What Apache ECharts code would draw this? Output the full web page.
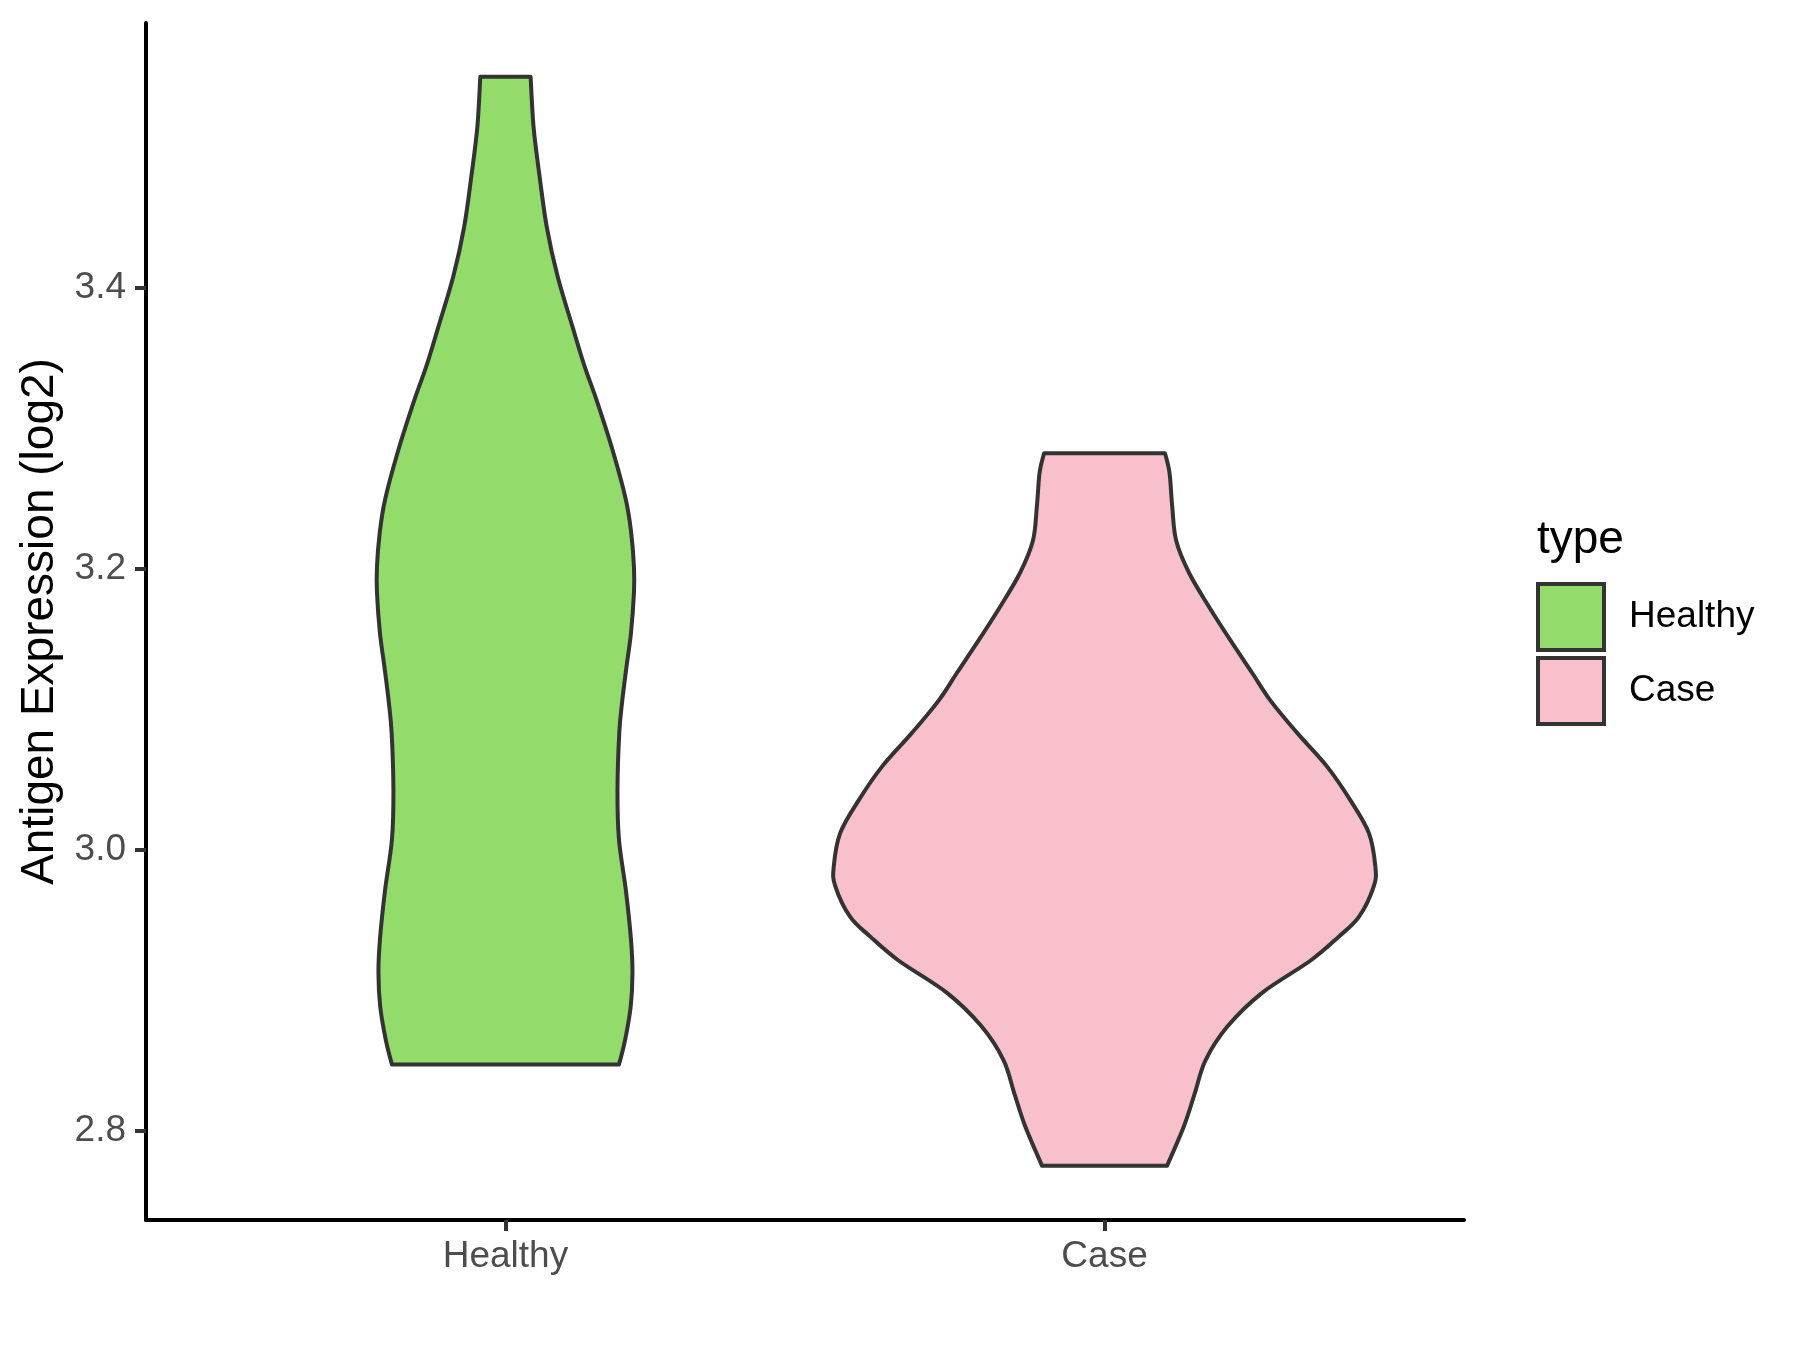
<!DOCTYPE html>
<html>
<head>
<meta charset="utf-8">
<script src="https://cdn.jsdelivr.net/npm/echarts@6/dist/echarts.min.js"></script>
<style>
  html, body { margin: 0; padding: 0; background: #ffffff; }
  #chart { width: 1800px; height: 1350px; }
</style>
</head>
<body>
<div id="chart"></div>
<script>
// ---- data ----
const categories = ['Healthy', 'Case'];
const yTicks = [2.8, 3.0, 3.2, 3.4];

// violin outlines: expression value (top to bottom) and half-width in category units
const healthyY = [3.550, 3.514, 3.479, 3.443, 3.408, 3.372, 3.344, 3.320, 3.284, 3.249, 3.225, 3.201, 3.183, 3.154, 3.130, 3.106, 3.083, 3.042, 3.007, 2.971, 2.936, 2.912, 2.888, 2.864, 2.847];
const healthyHalfWidth = [0.042, 0.047, 0.057, 0.069, 0.087, 0.112, 0.132, 0.152, 0.179, 0.201, 0.210, 0.2145, 0.2145, 0.2095, 0.202, 0.195, 0.190, 0.187, 0.1895, 0.201, 0.2095, 0.212, 0.209, 0.1995, 0.1895];

const caseY = [3.282, 3.268, 3.244, 3.220, 3.197, 3.173, 3.149, 3.126, 3.106, 3.083, 3.059, 3.035, 3.012, 2.988, 2.974, 2.952, 2.938, 2.921, 2.898, 2.874, 2.850, 2.827, 2.803, 2.775];
const caseHalfWidth = [0.101, 0.1085, 0.113, 0.1195, 0.141, 0.174, 0.210, 0.246, 0.277, 0.3215, 0.3715, 0.4105, 0.441, 0.452, 0.4495, 0.4245, 0.391, 0.344, 0.263, 0.205, 0.1685, 0.151, 0.1325, 0.1045];

const violinY = [healthyY, caseY];
const violinHalfWidth = [healthyHalfWidth, caseHalfWidth];
const fillColors = ['#93DB6A', '#F8C0CB'];
const outlineColor = '#333333';
const FONT = '"Liberation Sans", Arial, sans-serif';

// smooth path through pixel points (Catmull-Rom -> cubic Bezier)
function bezierThrough(pts) {
  let d = '';
  for (let i = 0; i < pts.length - 1; i++) {
    const p0 = pts[i - 1] || pts[i];
    const p1 = pts[i];
    const p2 = pts[i + 1];
    const p3 = pts[i + 2] || pts[i + 1];
    const c1x = p1[0] + (p2[0] - p0[0]) / 6, c1y = p1[1] + (p2[1] - p0[1]) / 6;
    const c2x = p2[0] - (p3[0] - p1[0]) / 6, c2y = p2[1] - (p3[1] - p1[1]) / 6;
    d += ' C ' + c1x + ' ' + c1y + ' ' + c2x + ' ' + c2y + ' ' + p2[0] + ' ' + p2[1];
  }
  return d;
}

function makeRenderItem(k) {
  return function (params, api) {
    const center = k + 1;
    const ys = violinY[k], hw = violinHalfWidth[k];
    const right = ys.map((y, i) => api.coord([center + hw[i], y]));
    const left = ys.map((y, i) => api.coord([center - hw[i], y])).reverse();
    let d = 'M ' + right[0][0] + ' ' + right[0][1];
    d += bezierThrough(right);
    d += ' L ' + left[0][0] + ' ' + left[0][1];
    d += bezierThrough(left);
    d += ' Z';
    return {
      type: 'path',
      shape: { pathData: d },
      style: { fill: fillColors[k], stroke: outlineColor, lineWidth: 4, lineJoin: 'round' }
    };
  };
}

const chart = echarts.init(document.getElementById('chart'), null, { renderer: 'canvas' });

const option = {
  backgroundColor: '#ffffff',
  animation: false,
  title: {
    text: 'type',
    left: 1537,
    top: 517,
    padding: 0,
    textStyle: { fontFamily: FONT, fontSize: 46, fontWeight: 'normal', color: '#000000' }
  },
  legend: {
    orient: 'vertical',
    left: 1536,
    top: 582,
    padding: 0,
    itemWidth: 66,
    itemHeight: 66,
    itemGap: 4,
    icon: 'rect',
    textStyle: { fontFamily: FONT, fontSize: 37, color: '#000000', padding: [6, 0, 0, 20] },
    data: categories.map((c, k) => ({
      name: c,
      itemStyle: { color: fillColors[k], borderColor: outlineColor, borderWidth: 4 }
    }))
  },
  grid: { left: 146, right: 336, top: 23, bottom: 130, containLabel: false },
  xAxis: {
    type: 'value',
    min: 0.4,
    max: 2.6,
    splitLine: { show: false },
    axisLine: { show: true, onZero: false, lineStyle: { color: '#000000', width: 4 } },
    axisTick: { show: true, length: 11, customValues: [1, 2], lineStyle: { color: '#333333', width: 4 } },
    axisLabel: {
      show: true,
      customValues: [1, 2],
      margin: 18,
      formatter: v => categories[Math.round(v) - 1] || '',
      fontFamily: FONT,
      fontSize: 37,
      color: '#4D4D4D'
    }
  },
  yAxis: {
    type: 'value',
    min: 2.7363,
    max: 3.5883,
    name: 'Antigen Expression (log2)',
    nameLocation: 'middle',
    nameGap: 80,
    nameTextStyle: { fontFamily: FONT, fontSize: 46, color: '#000000' },
    splitLine: { show: false },
    axisLine: { show: true, onZero: false, lineStyle: { color: '#000000', width: 4 } },
    axisTick: { show: true, length: 11, customValues: yTicks, lineStyle: { color: '#333333', width: 4 } },
    axisLabel: {
      show: true,
      customValues: yTicks,
      margin: 20,
      formatter: v => Number(v).toFixed(1),
      fontFamily: FONT,
      fontSize: 37,
      color: '#4D4D4D'
    }
  },
  series: categories.map((c, k) => ({
    name: c,
    type: 'custom',
    coordinateSystem: 'cartesian2d',
    renderItem: makeRenderItem(k),
    itemStyle: { color: fillColors[k], borderColor: outlineColor, borderWidth: 4 },
    data: [[k + 1, violinY[k][0]]],
    silent: true
  }))
};

chart.setOption(option);
</script>
</body>
</html>
